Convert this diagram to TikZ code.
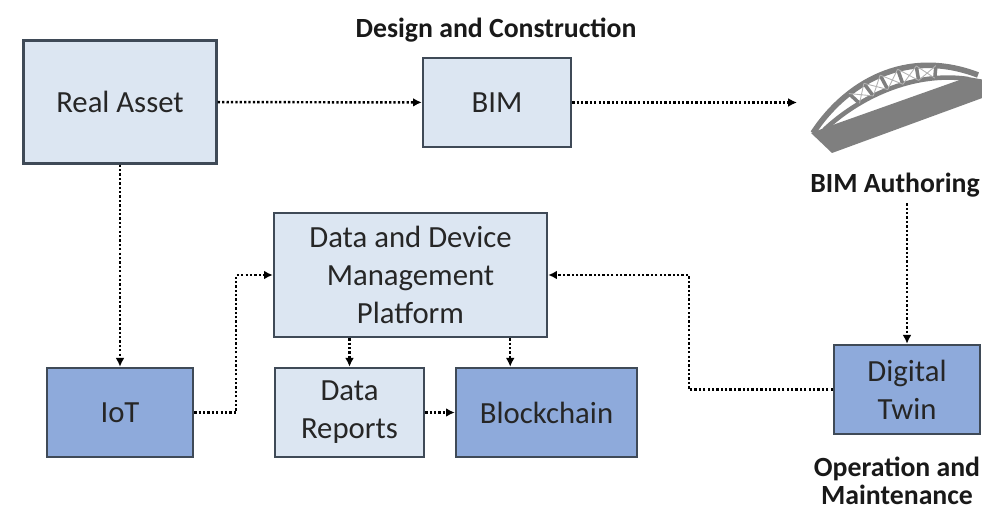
\documentclass[tikz,border=0pt]{standalone}
\usepackage{fontspec}
\setmainfont{Carlito}
\usetikzlibrary{arrows.meta, shadows}
\tikzset{>={Latex[length=5pt,width=5pt]}}
\definecolor{palefill}{HTML}{DCE6F2}
\definecolor{deepfill}{HTML}{8EAADB}
\definecolor{boxedge}{HTML}{3F4A57}
\definecolor{bridgegray}{HTML}{7F7F7F}
\tikzset{
	box/.style={draw=boxedge, line width=1.4pt, align=center, inner sep=2pt,
		font=\fontsize{17.5}{21.6}\selectfont, text=black!85,
		drop shadow={shadow xshift=0.7pt, shadow yshift=-0.7pt, opacity=0.25}},
	palebox/.style={box, fill=palefill},
	deepbox/.style={box, fill=deepfill},
	flow/.style={->, line width=1.4pt, dash pattern=on 1.3pt off 1.2pt},
	stage/.style={font=\bfseries\fontsize{15.8}{15.6}\selectfont, align=center, text=black!90}
}

\begin{document}
\begin{tikzpicture}[x=0.02cm, y=-0.02cm]
	\useasboundingbox (0,0) rectangle (982,509);
	\clip (0,0) rectangle (982,509);
	% boxes
	\node[palebox, minimum width=3.86cm, minimum height=2.46cm] (real) at (120,102) {Real Asset};
	\node[palebox, minimum width=2.96cm, minimum height=1.78cm] (bim) at (497,102.5) {BIM};
	\node[palebox, minimum width=5.46cm, minimum height=2.48cm] (plat) at (410.5,275) {Data and Device\\Management\\Platform};
	\node[deepbox, minimum width=2.92cm, minimum height=1.78cm] (iot) at (120,412.5) {IoT};
	\node[palebox, minimum width=2.98cm, minimum height=1.78cm] (rep) at (349.5,412.5) {Data\\Reports};
	\node[deepbox, minimum width=3.62cm, minimum height=1.78cm] (chain) at (546.5,412.5) {Blockchain};
	\node[deepbox, minimum width=2.92cm, minimum height=1.78cm] (twin) at (907,389.5) {Digital\\Twin};
	% stage labels
	\node[stage] (design) at (496,30) {Design and Construction};
	\node[stage] (author) at (895,185) {BIM Authoring};
	\node[stage] (operate) at (897,481) {Operation and\\Maintenance};
	% bridge
	\begin{scope}[bridgegray]
		\fill (811,133) -- (832,153) -- (985,97) -- (985,80) -- (968,77) -- (827,127) -- cycle;
		\draw[line width=3.2pt] (813,133) .. controls (845,84) and (905,47) .. (978,75)
			coordinate[pos=.3] (u1) coordinate[pos=.4] (u2) coordinate[pos=.5] (u3)
			coordinate[pos=.6] (u4) coordinate[pos=.7] (u5) coordinate[pos=.8] (u6);
		\draw[line width=2.6pt] (824,130) .. controls (858,98) and (912,71) .. (968,79)
			coordinate[pos=.3] (l1) coordinate[pos=.4] (l2) coordinate[pos=.5] (l3)
			coordinate[pos=.6] (l4) coordinate[pos=.7] (l5) coordinate[pos=.8] (l6);
		\foreach \i in {1,...,6}
			\draw[line width=2pt] (u\i) -- (l\i);
		\foreach \i/\j in {1/2,2/3,3/4,4/5,5/6}
			\draw[line width=0.5pt, gray!60] (u\i) -- (l\j) (l\i) -- (u\j);
	\end{scope}
	\coordinate (brg) at (797,102.5);
	% connectors
	\draw[flow] (real) -- (bim);
	\draw[flow] (bim) -- (brg);
	\draw[flow] (real) -- (iot);
	\draw[flow] (iot.east) -- ++(42,0) |- (plat.west);
	\draw[flow] (rep.north |- plat.south) -- (rep.north);
	\draw[flow] ([xshift=-0.76cm]plat.south east) -- ([xshift=-0.76cm]plat.south east |- chain.north);
	\draw[flow] (rep) -- (chain);
	\draw[flow] (twin.north |- author.south) -- (twin.north);
	\draw[flow] (twin.west) -- ++(-144,0) |- (plat.east);
\end{tikzpicture}
\end{document}
